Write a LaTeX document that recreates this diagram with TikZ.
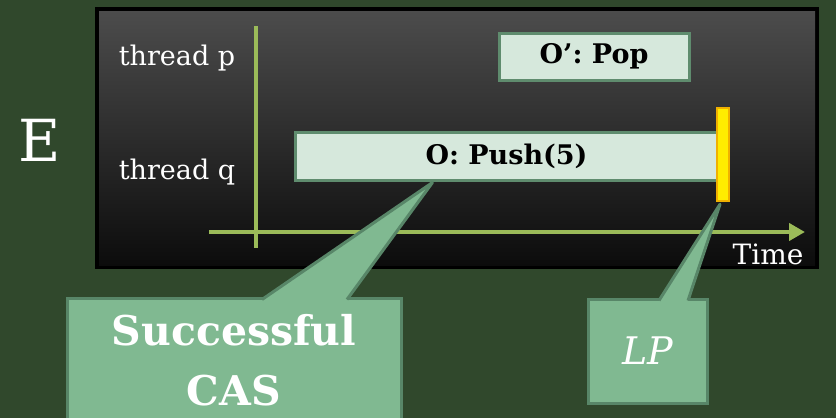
\documentclass[tikz,border=0pt]{standalone}
\usepackage{fontspec}
\setmainfont{DejaVu Serif}
\usepackage{tikz}
\usetikzlibrary{arrows.meta,positioning,calc}
\definecolor{bgGreen}{RGB}{48,72,44}
\definecolor{axGreen}{RGB}{155,187,89}
\definecolor{opFill}{RGB}{214,232,220}
\definecolor{opEdge}{RGB}{95,140,110}
\definecolor{coFill}{RGB}{128,185,145}
\definecolor{coEdge}{RGB}{88,134,104}
\definecolor{lpFill}{RGB}{255,236,0}
\definecolor{lpEdge}{RGB}{240,176,0}
\definecolor{panTop}{RGB}{76,76,76}
\definecolor{panBot}{RGB}{12,12,12}
\tikzstyle{tLbl}=[text=white, inner sep=0pt, font=\fontsize{27}{32}\selectfont]
\tikzstyle{opBox}=[rectangle, draw=opEdge, fill=opFill, line width=3pt, inner sep=0pt, font=\fontsize{27}{32}\selectfont\bfseries]
\tikzstyle{coBox}=[rectangle, draw=coEdge, fill=coFill, line width=3pt, inner sep=0pt, outer sep=0pt, text=white, align=center]
\tikzstyle{coPtr}=[fill=coFill]
\tikzstyle{coLine}=[draw=coEdge, line width=3pt, line join=round]
\tikzstyle{tAxis}=[draw=axGreen, line width=4pt]

\begin{document}
\begin{tikzpicture}[x=1pt,y=-1pt]
                \useasboundingbox (0,0) rectangle (836,418);
                \clip (0,0) rectangle (836,418);
                \fill[bgGreen] (0,0) rectangle (836,418);
                % history panel
                \fill[black] (95,7) rectangle (819,269);
                \shade[top color=panTop, bottom color=panBot] (99,11) rectangle (815,265);
                \draw (40,140) node[tLbl, font=\fontsize{58}{60}\selectfont] (hist) {E};
                \draw (177,58) node[tLbl] (tp) {thread p};
                \draw (177,172) node[tLbl] (tq) {thread q};
                % time axes
                \coordinate (yTop) at (256,26);
                \coordinate (yBot) at (256,248);
                \coordinate (tBeg) at (209,232);
                \coordinate (tEnd) at (805,232);
                \draw[tAxis] (yTop) -- (yBot);
                \draw[tAxis, -{Triangle[length=16pt,width=17pt]}] (tBeg) -- (tEnd);
                \draw (768,254) node[tLbl, font=\fontsize{28}{32}\selectfont] (time) {Time};
                % operations
                \draw (594,56.5) node[opBox, minimum width=190pt, minimum height=47pt] (pop) {O’: Pop};
                \draw (506.5,156) node[opBox, minimum width=423pt, minimum height=48pt] (push) {O: Push(5)};
                \draw (723,154.5) node[rectangle, draw=lpEdge, fill=lpFill, line width=2.5pt, minimum width=12pt, minimum height=93pt, inner sep=0pt] (lpBar) {};
                % callouts
                \draw (234,360) node[coBox, minimum width=334pt, minimum height=124pt, font=\fontsize{41}{60}\selectfont\bfseries] (cas) {Successful\\CAS};
                \fill[coPtr] ([xshift=195pt,yshift=-2pt]cas.north west) -- ([xshift=-74pt,yshift=-1pt]push.south) -- ([xshift=280pt,yshift=-2pt]cas.north west) -- cycle;
                \draw[coLine] ([xshift=195pt,yshift=-1.5pt]cas.north west) -- ([xshift=-74pt,yshift=-1pt]push.south) -- ([xshift=280pt,yshift=-1.5pt]cas.north west);
                \draw (647.5,351) node[coBox, minimum width=119pt, minimum height=104pt, font=\fontsize{38}{40}\selectfont\itshape] (lp) {LP};
                \fill[coPtr] ([xshift=71pt,yshift=-2pt]lp.north west) -- ([xshift=-3pt,yshift=-2pt]lpBar.south) -- ([xshift=100pt,yshift=-2pt]lp.north west) -- cycle;
                \draw[coLine] ([xshift=71pt,yshift=-1.5pt]lp.north west) -- ([xshift=-3pt,yshift=-2pt]lpBar.south) -- ([xshift=100pt,yshift=-1.5pt]lp.north west);
\end{tikzpicture}
\end{document}
